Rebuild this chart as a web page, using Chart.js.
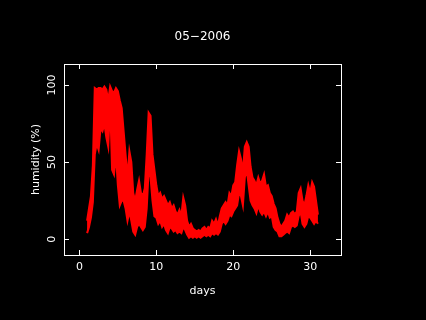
<!DOCTYPE html>
<html>
<head>
<meta charset="utf-8">
<script src="https://cdn.jsdelivr.net/npm/chart.js@4.4.1/dist/chart.umd.min.js"></script>
<style>
  html, body { margin: 0; padding: 0; background: #000; }
  #wrap { width: 426px; height: 320px; }
</style>
</head>
<body>
<div id="wrap"><canvas id="chart" width="426" height="320"></canvas></div>
<script>
// humidity readings, May 2006 (band low / high read per quarter day)
const days = [
  1.00, 1.25, 1.50, 1.75, 2.00, 2.25, 2.50, 2.75, 3.00, 3.25, 3.50, 3.75,
  4.00, 4.25, 4.50, 4.75, 5.00, 5.25, 5.50, 5.75, 6.00, 6.25, 6.50, 6.75,
  7.00, 7.25, 7.50, 7.75, 8.00, 8.25, 8.50, 8.75, 9.00, 9.25, 9.50, 9.75,
  10.00, 10.25, 10.50, 10.75, 11.00, 11.25, 11.50, 11.75, 12.00, 12.25, 12.50, 12.75,
  13.00, 13.25, 13.50, 13.75, 14.00, 14.25, 14.50, 14.75, 15.00, 15.25, 15.50, 15.75,
  16.00, 16.25, 16.50, 16.75, 17.00, 17.25, 17.50, 17.75, 18.00, 18.25, 18.50, 18.75,
  19.00, 19.25, 19.50, 19.75, 20.00, 20.25, 20.50, 20.75, 21.00, 21.25, 21.50, 21.75,
  22.00, 22.25, 22.50, 22.75, 23.00, 23.25, 23.50, 23.75, 24.00, 24.25, 24.50, 24.75,
  25.00, 25.25, 25.50, 25.75, 26.00, 26.25, 26.50, 26.75, 27.00, 27.25, 27.50, 27.75,
  28.00, 28.25, 28.50, 28.75, 29.00, 29.25, 29.50, 29.75, 30.00, 30.25, 30.50, 30.75,
  31.00
];
const humLow = [
  4, 8, 14, 24, 55, 62, 58, 72, 70, 75, 66, 60,
  88, 45, 42, 55, 35, 22, 25, 25, 20, 12, 18, 12,
  5, 3, 8, 10, 8, 6, 8, 20, 45, 40, 25, 15,
  14, 10, 12, 8, 10, 6, 4, 8, 7, 5, 6, 4,
  5, 4, 8, 6, 3, 1, 2, 1, 2, 1, 2, 1,
  2, 3, 2, 3, 2, 4, 3, 4, 3, 5, 10, 12,
  10, 12, 16, 15, 18, 20, 22, 30, 28, 22, 40, 45,
  35, 25, 22, 20, 17, 22, 18, 16, 18, 15, 18, 14,
  15, 8, 6, 5, 2, 2, 3, 4, 5, 4, 8, 9,
  8, 9, 15, 18, 10, 8, 10, 15, 14, 12, 10, 12,
  10
];
const humHigh = [
  12, 20, 28, 48, 98, 97, 98, 98, 97, 99, 97, 90,
  99, 96, 95, 98, 96, 90, 85, 70, 55, 40, 57, 50,
  30, 25, 32, 38, 30, 28, 33, 55, 82, 80, 55, 45,
  35, 28, 30, 26, 28, 25, 22, 24, 20, 22, 18, 16,
  19, 15, 27, 22, 12, 8, 10, 7, 6, 5, 6, 5,
  7, 8, 6, 8, 7, 12, 10, 13, 9, 15, 20, 22,
  24, 22, 30, 28, 35, 37, 48, 57, 52, 44, 60, 63,
  60, 47, 40, 38, 35, 40, 36, 38, 42, 34, 35, 30,
  28, 23, 20, 14, 10, 8, 10, 12, 16, 14, 17, 18,
  16, 18, 30, 33, 25, 22, 28, 35, 30, 37, 34, 25,
  16
];
const xTicks = [0, 10, 20, 30];
const yTicks = [0, 50, 100];
const chartTitle = '05\u22122006';
const xTitle = 'days';
const yTitle = 'humidity (%)';

const FONT = '"DejaVu Sans", sans-serif';

//plugin that paints the black page, the white box, inward ticks and all the texts
const framePlugin = {
    id: 'frame',
    beforeDraw(chart) {
        const ctx = chart.ctx;
        ctx.save();
        ctx.fillStyle = '#000';
        ctx.fillRect(0, 0, chart.width, chart.height);
        ctx.restore();
    },
    afterDraw(chart) {
        const ctx = chart.ctx;
        const a = chart.chartArea;
        const xs = chart.scales.x;
        const ys = chart.scales.y;
        const tick = 5;
        ctx.save();
        ctx.strokeStyle = '#fff';
        ctx.lineWidth = 1;
        ctx.strokeRect(Math.round(a.left) + 0.5, Math.round(a.top) + 0.5,
            Math.round(a.right - a.left), Math.round(a.bottom - a.top));

        ctx.beginPath();
        xTicks.forEach(v => {
            const px = Math.round(xs.getPixelForValue(v)) + 0.5;
            ctx.moveTo(px, a.bottom); ctx.lineTo(px, a.bottom - tick);
            ctx.moveTo(px, a.top); ctx.lineTo(px, a.top + tick);
        });
        yTicks.forEach(v => {
            const py = Math.round(ys.getPixelForValue(v)) + 0.5;
            ctx.moveTo(a.left, py); ctx.lineTo(a.left + tick, py);
            ctx.moveTo(a.right, py); ctx.lineTo(a.right - tick, py);
        });
        ctx.stroke();

        ctx.fillStyle = '#fff';
        ctx.textAlign = 'center';
        ctx.textBaseline = 'middle';
        ctx.font = '11px ' + FONT;
        xTicks.forEach(v => ctx.fillText(String(v), xs.getPixelForValue(v), a.bottom + 12));
        ctx.fillText(xTitle, (a.left + a.right) / 2, a.bottom + 36);

        yTicks.forEach(v => {
            ctx.save();
            ctx.translate(a.left - 12, ys.getPixelForValue(v));
            ctx.rotate(-Math.PI / 2);
            ctx.fillText(String(v), 0, 0);
            ctx.restore();
        });
        ctx.save();
        ctx.translate(a.left - 28, (a.top + a.bottom) / 2);
        ctx.rotate(-Math.PI / 2);
        ctx.fillText(yTitle, 0, 0);
        ctx.restore();

        ctx.font = '12px ' + FONT;
        ctx.fillText(chartTitle, (a.left + a.right) / 2, 37);
        ctx.restore();
    }
};

const highPts = days.map((d, i) => ({ x: d, y: humHigh[i] }));
const lowPts = days.map((d, i) => ({ x: d, y: humLow[i] }));

new Chart(document.getElementById('chart').getContext('2d'), {
    type: 'scatter',
    data: {
        datasets: [{
            label: 'high',
            data: highPts,
            showLine: true,
            borderColor: '#ff0000',
            borderWidth: 2,
            pointRadius: 0,
            tension: 0,
            fill: false
        }, {
            label: 'low',
            data: lowPts,
            showLine: true,
            borderColor: '#ff0000',
            backgroundColor: '#ff0000',
            borderWidth: 2,
            pointRadius: 0,
            tension: 0,
            fill: '-1'
        }]
    },
    options: {
        responsive: false,
        animation: false,
        layout: { padding: { left: 0, right: 85, top: 64, bottom: 0 } },
        scales: {
            x: {
                type: 'linear',
                min: -2,
                max: 34,
                grid: { display: false },
                border: { display: false },
                ticks: { display: false },
                afterFit: s => { s.height = 65; }
            },
            y: {
                type: 'linear',
                min: -10.2,
                max: 113.6,
                grid: { display: false },
                border: { display: false },
                ticks: { display: false },
                afterFit: s => { s.width = 64; }
            }
        },
        plugins: {
            legend: { display: false },
            tooltip: { enabled: false },
            title: { display: false }
        }
    },
    plugins: [framePlugin]
});
</script>
</body>
</html>
